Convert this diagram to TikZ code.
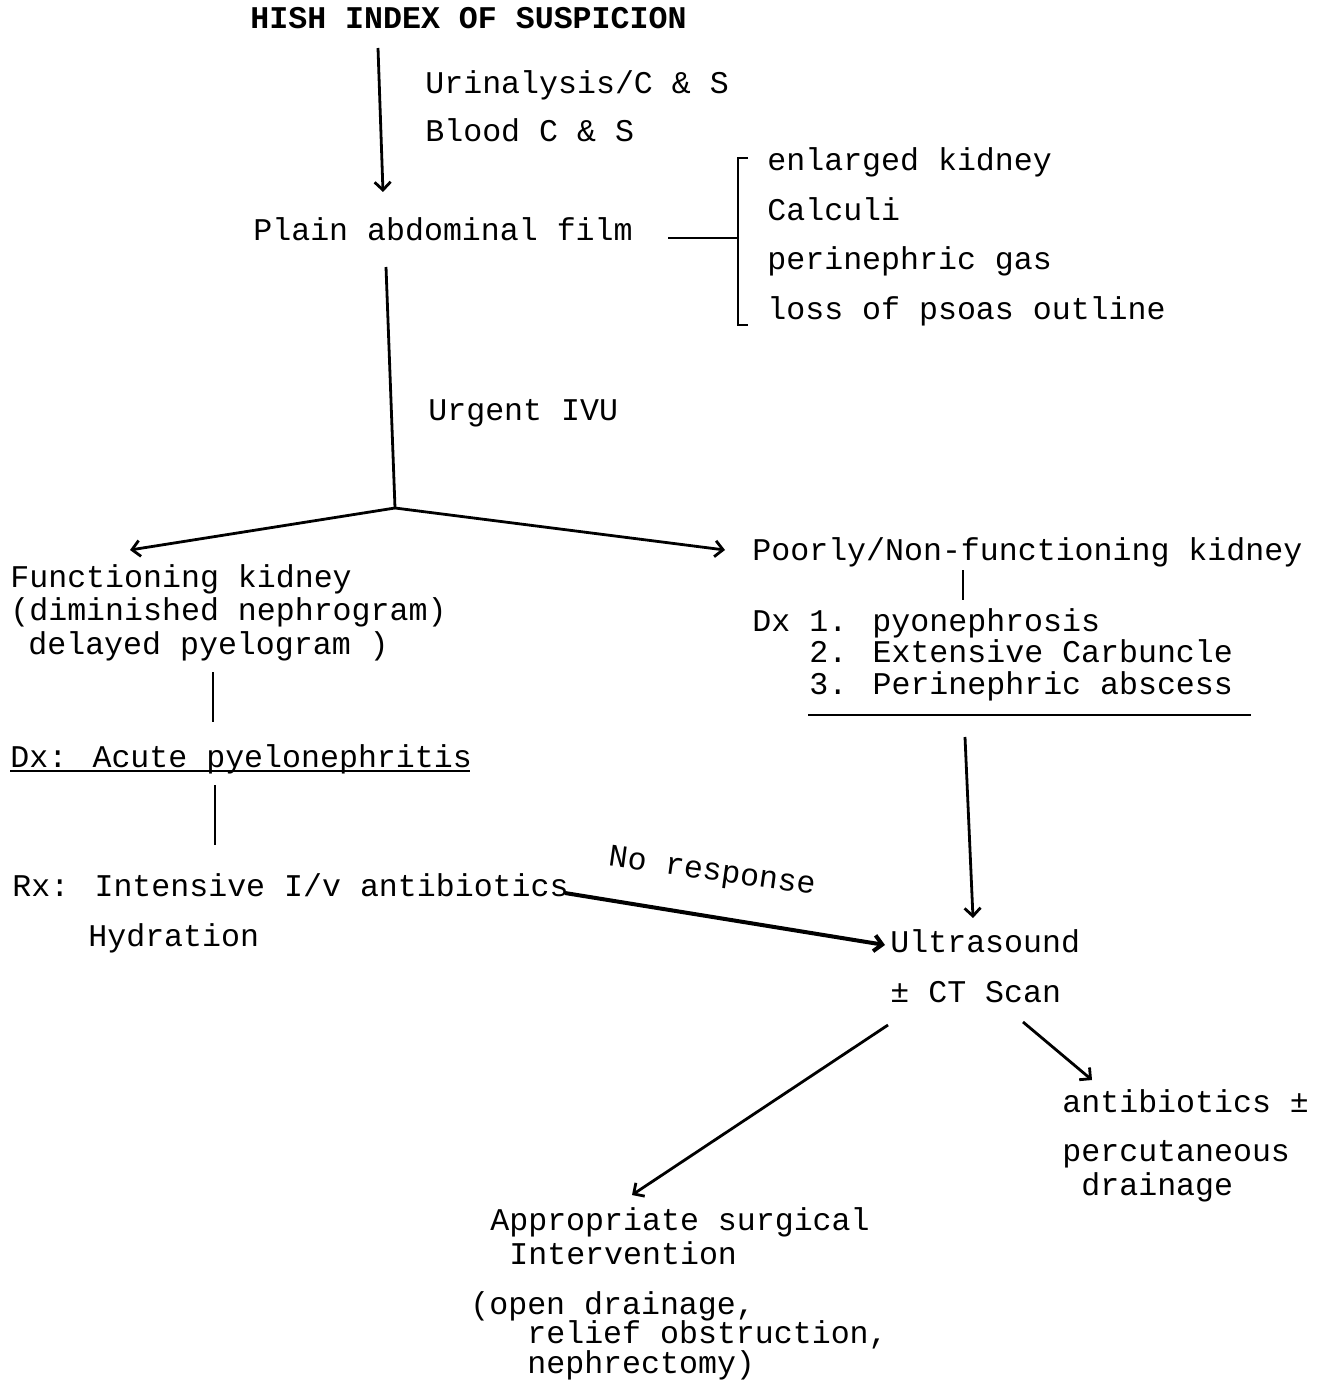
\documentclass[tikz,border=0pt]{standalone}
\usepackage{fontspec}
\setmainfont{Liberation Mono}
\usetikzlibrary{arrows.meta,calc}

\tikzset{
  txt/.style={anchor=base west,inner sep=0pt,align=left,font=\fontsize{15.8}{16.75}\selectfont},
  ln/.style={line width=1.4pt},
  arr/.style={line width=1.4pt,-{Straight Barb[length=4pt,width=8pt]}},
}
\newcommand{\ind}[1]{\hspace*{#1}}

\begin{document}
\begin{tikzpicture}[x=0.5pt,y=-0.5pt]
\useasboundingbox (0,0) rectangle (1322,1380);
% texts (pixel coords, base line of the last line)
\node[txt,font=\fontsize{15.8}{16.75}\selectfont\bfseries] (title) at (250,29) {HISH INDEX OF SUSPICION};
\node[txt] (urin) at (425,142) {Urinalysis/C \& S\\[7.5pt]Blood C \& S};
\node[txt] (plain) at (253,241) {Plain abdominal film};
\node[txt] (signs) at (767,319) {enlarged kidney\\[8pt]Calculi\\[8pt]perinephric gas\\[8pt]loss of psoas outline};
\node[txt] (ivu) at (428,420) {Urgent IVU};
\coordinate (split) at (395,508);
\node[txt] (func) at (10,654) {Functioning kidney\\(diminished nephrogram)\\\ind{9pt}delayed pyelogram )};
\node[txt] (dxa) at (10,767) {Dx: Acute pyelonephritis};
\node[txt] (rx) at (12,946) {Rx: Intensive I/v antibiotics\\[8.25pt]\ind{38pt}Hydration};
\node[txt] (poor) at (752,560) {Poorly/Non-functioning kidney};
\node[txt] (dxl) at (752,694) {Dx 1. pyonephrosis\\[-1pt]\ind{28.5pt}2. Extensive Carbuncle\\[-1pt]\ind{28.5pt}3. Perinephric abscess};
\node[txt] (us) at (890,1002) {Ultrasound\\[8.25pt]± CT Scan};
\node[txt,rotate=-8,anchor=center] (noresp) at (712,873) {No response};
\node[txt] (anti) at (1062,1195) {antibiotics ±\\[7.75pt]percutaneous\\\ind{9.5pt}drainage};
\node[txt] (surg) at (490,1264) {Appropriate surgical\\\ind{9.5pt}Intervention};
\node[txt,font=\fontsize{15.8}{14.75}\selectfont] (open) at (470,1373) {(open drainage,\\\ind{28.5pt}relief obstruction,\\\ind{28.5pt}nephrectomy)};
% connectors
\draw[arr] ($(title.base west)+(128,19)$) -- ($(plain.base west)+(130,-49)$);
\draw[ln] ($(plain.base west)+(133,26)$) -- (split);
\draw[arr] (split) -- ($(func.base west)+(120,-104)$);
\draw[arr] (split) -- ($(poor.base west)+(-27,-10)$);
\draw[ln] ($(plain.base west)+(415,-3)$) -- ($(signs.base west)+(-29,-81)$); % bracket
\draw[ln] ($(signs.base west)+(-19,-161)$) -- ($(signs.base west)+(-29,-161)$) -- ($(signs.base west)+(-29,6)$) -- ($(signs.base west)+(-19,6)$);
\draw[ln] ($(func.base west)+(203,18)$) -- ($(dxa.base west)+(203,-45)$);
\draw[ln] ($(dxa.base west)+(0,4)$) -- ($(dxa.base west)+(460,4)$); % underline
\draw[ln] ($(dxa.base west)+(205,18)$) -- ($(rx.base west)+(203,-101)$);
\draw[ln] ($(poor.base west)+(211,10)$) -- ($(dxl.base west)+(211,-94)$);
\draw[ln] ($(dxl.base west)+(56,21)$) -- ($(dxl.base west)+(499,21)$);
\draw[arr] ($(dxl.base west)+(213,43)$) -- ($(us.base west)+(83,-84)$);
\draw[arr,line width=2pt] ($(rx.base west)+(553,-53)$) -- ($(us.base west)+(-5,-57)$);
\draw[arr] ($(us.base west)+(-2,23)$) -- ($(surg.base west)+(142,-69)$);
\draw[arr] ($(us.base west)+(133,20)$) -- ($(anti.base west)+(30,-115)$);
\end{tikzpicture}
\end{document}
